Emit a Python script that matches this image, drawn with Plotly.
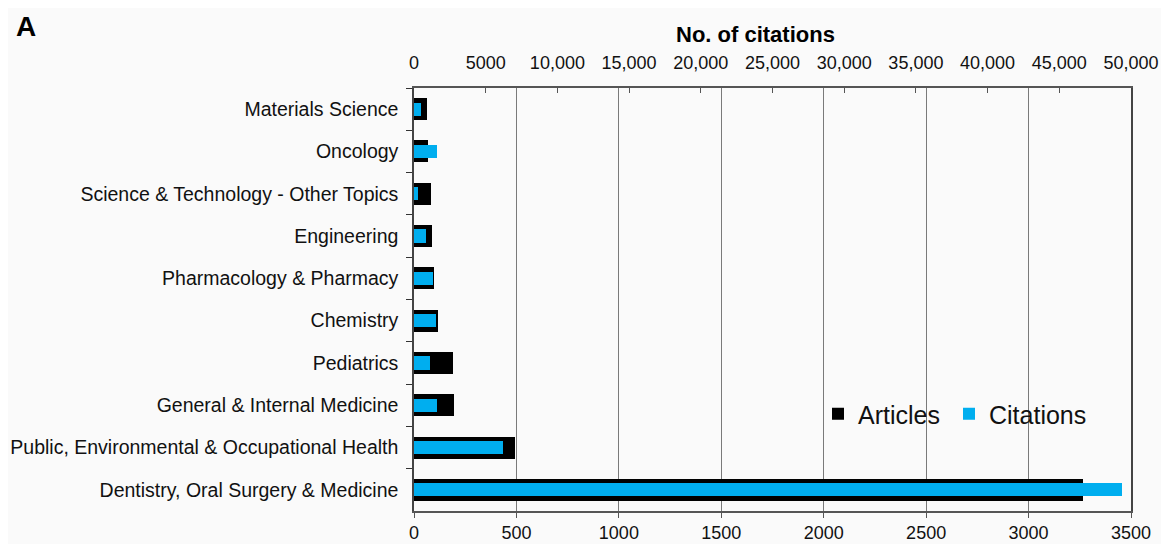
import plotly.graph_objects as go

categories = [
    "Materials Science",
    "Oncology",
    "Science & Technology - Other Topics",
    "Engineering",
    "Pharmacology & Pharmacy",
    "Chemistry",
    "Pediatrics",
    "General & Internal Medicine",
    "Public, Environmental & Occupational Health",
    "Dentistry, Oral Surgery & Medicine",
]
articles = [64, 67, 85, 90, 100, 118, 191, 194, 494, 3268]
citations = [453, 1618, 293, 802, 1311, 1548, 1102, 1618, 6220, 49370]

bottom_ticks = [0, 500, 1000, 1500, 2000, 2500, 3000, 3500]
top_ticks = [0, 5000, 10000, 15000, 20000, 25000, 30000, 35000, 40000, 45000, 50000]
top_ticktext = ["0", "5000", "10,000", "15,000", "20,000", "25,000", "30,000",
                "35,000", "40,000", "45,000", "50,000"]

FONT = "Liberation Sans, Arial, Helvetica, sans-serif"

fig = go.Figure()
fig.add_trace(go.Bar(
    y=categories, x=articles, orientation="h", name="Articles",
    marker=dict(color="#000000", line=dict(width=0)), width=0.52,
    xaxis="x", yaxis="y", legend="legend", showlegend=True,
))
fig.add_trace(go.Bar(
    y=categories, x=citations, orientation="h", name="Citations",
    marker=dict(color="#00aeef", line=dict(width=0)), width=0.31,
    xaxis="x2", yaxis="y", legend="legend2", showlegend=True,
))

legend_common = dict(
    orientation="h", xanchor="left", yanchor="middle", visible=True,
    bgcolor="rgba(0,0,0,0)", font=dict(size=25, family=FONT), itemwidth=30,
)

fig.update_layout(
    width=1161, height=536, showlegend=True,
    paper_bgcolor="#fafafa", plot_bgcolor="#fafafa",
    margin=dict(l=406, r=38, t=80, b=33, autoexpand=False),
    barmode="overlay",
    font=dict(family=FONT, size=18, color="#111"),
    xaxis=dict(
        range=[0, 3500], tickvals=bottom_ticks, ticktext=[str(v) for v in bottom_ticks],
        showgrid=True, gridcolor="#7a7a7a", gridwidth=1,
        showline=True, linecolor="#555", linewidth=1.5,
        ticks="outside", ticklen=5, tickcolor="#555",
        zeroline=False, tickfont=dict(size=18, family=FONT),
        side="bottom", automargin=False,
    ),
    xaxis2=dict(
        range=[0, 50000], tickvals=top_ticks, ticktext=top_ticktext,
        overlaying="x", side="top", showgrid=False,
        showline=True, linecolor="#555", linewidth=1.5,
        ticks="inside", ticklen=5, tickcolor="#555",
        zeroline=False, tickfont=dict(size=18, family=FONT),
        ticklabelstandoff=10, automargin=False,
    ),
    yaxis=dict(
        autorange="reversed", showline=True, linecolor="#444", linewidth=1.5,
        mirror=True,
        ticks="outside", ticklen=6, tickcolor="#333", tickson="boundaries",
        showgrid=False, tickfont=dict(size=19.5, family=FONT), ticklabelstandoff=10,
        automargin=False,
    ),
    legend=dict(x=(810 - 406) / 717, y=(503 - 406) / 423, **legend_common),
    legend2=dict(x=(941 - 406) / 717, y=(503 - 406) / 423, **legend_common),
    bargap=0,
)

fig.add_annotation(
    text="<b>No. of citations</b>", xref="paper", yref="paper",
    x=(747 - 406) / 717, y=1 + (80 - 26) / 423,
    xanchor="center", yanchor="middle", showarrow=False,
    font=dict(size=22, family=FONT, color="#000"),
)
fig.add_annotation(
    text="<b>A</b>", xref="paper", yref="paper",
    x=(6 - 406) / 717, y=1 + (80 - 19) / 423,
    xanchor="left", yanchor="middle", showarrow=False,
    font=dict(size=28, family=FONT, color="#000"),
)

fig.write_html("out.html")
